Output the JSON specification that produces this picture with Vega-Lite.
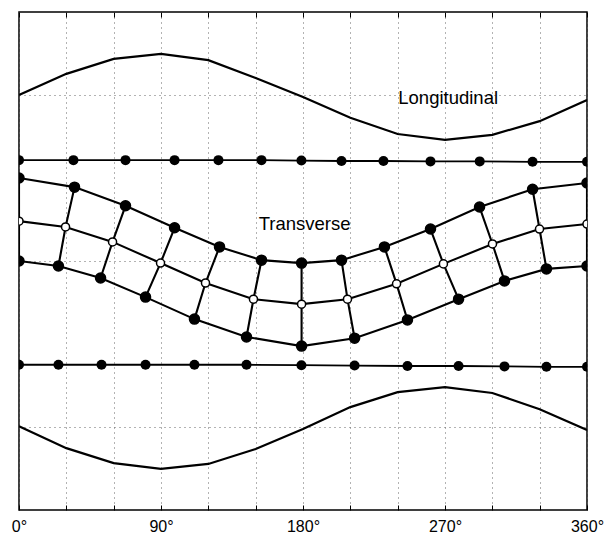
{
  "$schema": "https://vega.github.io/schema/vega-lite/v6.json",
  "width": 568,
  "height": 498,
  "autosize": {"type": "none"},
  "padding": {"left": 19, "top": 12, "right": 19, "bottom": 28},
  "background": "white",
  "config": {"view": {"stroke": "black", "strokeWidth": 1.5}},
  "datasets": {
    "lon": [
      {"curve": "upper", "x": 0, "y": 4.0}, {"curve": "upper", "x": 30, "y": 4.51}, {"curve": "upper", "x": 60, "y": 4.87},
      {"curve": "upper", "x": 90, "y": 4.99}, {"curve": "upper", "x": 120, "y": 4.84}, {"curve": "upper", "x": 150, "y": 4.41},
      {"curve": "upper", "x": 180, "y": 3.95}, {"curve": "upper", "x": 210, "y": 3.45}, {"curve": "upper", "x": 240, "y": 3.06},
      {"curve": "upper", "x": 270, "y": 2.92}, {"curve": "upper", "x": 300, "y": 3.04}, {"curve": "upper", "x": 330, "y": 3.37},
      {"curve": "upper", "x": 360, "y": 3.88},
      {"curve": "lower", "x": 0, "y": -3.98}, {"curve": "lower", "x": 30, "y": -4.51}, {"curve": "lower", "x": 60, "y": -4.87},
      {"curve": "lower", "x": 90, "y": -5.01}, {"curve": "lower", "x": 120, "y": -4.89}, {"curve": "lower", "x": 150, "y": -4.53},
      {"curve": "lower", "x": 180, "y": -4.05}, {"curve": "lower", "x": 210, "y": -3.52}, {"curve": "lower", "x": 240, "y": -3.16},
      {"curve": "lower", "x": 270, "y": -3.04}, {"curve": "lower", "x": 300, "y": -3.18}, {"curve": "lower", "x": 330, "y": -3.57},
      {"curve": "lower", "x": 360, "y": -4.07}
    ],
    "ldots": [
      {"line": "top", "i": 0, "x": 0, "y": 2.43}, {"line": "top", "i": 1, "x": 34.5, "y": 2.43}, {"line": "top", "i": 2, "x": 67.5, "y": 2.43},
      {"line": "top", "i": 3, "x": 98.6, "y": 2.43}, {"line": "top", "i": 4, "x": 126.4, "y": 2.43}, {"line": "top", "i": 5, "x": 153.7, "y": 2.43},
      {"line": "top", "i": 6, "x": 179, "y": 2.42}, {"line": "top", "i": 7, "x": 204.4, "y": 2.41}, {"line": "top", "i": 8, "x": 231.0, "y": 2.41},
      {"line": "top", "i": 9, "x": 260.8, "y": 2.4}, {"line": "top", "i": 10, "x": 292.0, "y": 2.4}, {"line": "top", "i": 11, "x": 325.5, "y": 2.39},
      {"line": "top", "i": 12, "x": 360, "y": 2.39},
      {"line": "bot", "i": 0, "x": 0, "y": -2.5}, {"line": "bot", "i": 1, "x": 25.0, "y": -2.5}, {"line": "bot", "i": 2, "x": 52.3, "y": -2.5},
      {"line": "bot", "i": 3, "x": 80.2, "y": -2.5}, {"line": "bot", "i": 4, "x": 111.2, "y": -2.5}, {"line": "bot", "i": 5, "x": 144.2, "y": -2.5},
      {"line": "bot", "i": 6, "x": 179, "y": -2.51}, {"line": "bot", "i": 7, "x": 212.7, "y": -2.52}, {"line": "bot", "i": 8, "x": 246.2, "y": -2.53},
      {"line": "bot", "i": 9, "x": 278.6, "y": -2.53}, {"line": "bot", "i": 10, "x": 307.7, "y": -2.54}, {"line": "bot", "i": 11, "x": 334.3, "y": -2.55},
      {"line": "bot", "i": 12, "x": 360, "y": -2.55}
    ],
    "trans": [
      {"row": 0, "col": 0, "x": 0, "y": 2.0}, {"row": 0, "col": 1, "x": 35.2, "y": 1.78}, {"row": 0, "col": 2, "x": 67.5, "y": 1.33},
      {"row": 0, "col": 3, "x": 98.6, "y": 0.8}, {"row": 0, "col": 4, "x": 127.1, "y": 0.34}, {"row": 0, "col": 5, "x": 153.7, "y": 0.02},
      {"row": 0, "col": 6, "x": 179.1, "y": -0.05}, {"row": 0, "col": 7, "x": 204.4, "y": 0.02}, {"row": 0, "col": 8, "x": 231.6, "y": 0.34},
      {"row": 0, "col": 9, "x": 260.8, "y": 0.77}, {"row": 0, "col": 10, "x": 291.9, "y": 1.3}, {"row": 0, "col": 11, "x": 325.5, "y": 1.73},
      {"row": 0, "col": 12, "x": 360, "y": 1.88},
      {"row": 1, "col": 0, "x": 0, "y": 0.96}, {"row": 1, "col": 1, "x": 29.5, "y": 0.82}, {"row": 1, "col": 2, "x": 59.3, "y": 0.46},
      {"row": 1, "col": 3, "x": 89.7, "y": -0.05}, {"row": 1, "col": 4, "x": 118.2, "y": -0.53}, {"row": 1, "col": 5, "x": 148.6, "y": -0.92},
      {"row": 1, "col": 6, "x": 179.1, "y": -1.04}, {"row": 1, "col": 7, "x": 208.2, "y": -0.92}, {"row": 1, "col": 8, "x": 239.3, "y": -0.55},
      {"row": 1, "col": 9, "x": 269.0, "y": -0.07}, {"row": 1, "col": 10, "x": 300.1, "y": 0.41}, {"row": 1, "col": 11, "x": 329.9, "y": 0.77},
      {"row": 1, "col": 12, "x": 360, "y": 0.89},
      {"row": 2, "col": 0, "x": 0, "y": 0.0}, {"row": 2, "col": 1, "x": 25.0, "y": -0.12}, {"row": 2, "col": 2, "x": 51.7, "y": -0.41},
      {"row": 2, "col": 3, "x": 80.2, "y": -0.87}, {"row": 2, "col": 4, "x": 111.2, "y": -1.4}, {"row": 2, "col": 5, "x": 144.2, "y": -1.83},
      {"row": 2, "col": 6, "x": 179.1, "y": -2.05}, {"row": 2, "col": 7, "x": 212.7, "y": -1.86}, {"row": 2, "col": 8, "x": 246.2, "y": -1.42},
      {"row": 2, "col": 9, "x": 278.6, "y": -0.92}, {"row": 2, "col": 10, "x": 307.7, "y": -0.48}, {"row": 2, "col": 11, "x": 334.3, "y": -0.19},
      {"row": 2, "col": 12, "x": 360, "y": -0.12}
    ],
    "labels": [
      {"text": "Longitudinal", "x": 272, "y": 3.78},
      {"text": "Transverse", "x": 181, "y": 0.75}
    ]
  },
  "resolve": {"axis": {"x": "independent"}},
  "layer": [
    {
      "data": {"name": "lon"},
      "mark": {"type": "line", "color": "black", "strokeWidth": 2.2, "clip": true},
      "encoding": {
        "x": {
          "field": "x", "type": "quantitative",
          "scale": {"domain": [0, 360], "nice": false, "zero": false},
          "axis": {
            "orient": "bottom", "title": null, "values": [0, 30, 60, 90, 120, 150, 180, 210, 240, 270, 300, 330, 360],
            "labelExpr": "datum.value % 90 === 0 ? datum.value + '°' : ''",
            "grid": true, "gridDash": [1, 4], "gridColor": "#666", "gridWidth": 1,
            "domain": false, "tickSize": -5, "tickColor": "black", "tickWidth": 1,
            "labelFont": "Liberation Sans", "labelFontSize": 16, "labelColor": "black",
            "labelPadding": 13, "labelFlush": false, "labelOverlap": false, "labelBound": false
          }
        },
        "y": {
          "field": "y", "type": "quantitative",
          "scale": {"domain": [-6, 6], "nice": false, "zero": false},
          "axis": {
            "values": [-4, 0, 4], "title": null, "labels": false, "ticks": false, "domain": false,
            "grid": true, "gridDash": [1, 4], "gridColor": "#666", "gridWidth": 1
          }
        },
        "detail": {"field": "curve"},
        "order": {"field": "x", "type": "quantitative"}
      }
    },
    {
      "data": {"name": "ldots"},
      "mark": {"type": "line", "color": "black", "strokeWidth": 1.8, "clip": true},
      "encoding": {
        "x": {
          "field": "x", "type": "quantitative",
          "axis": {
            "orient": "top", "title": null, "values": [0, 30, 60, 90, 120, 150, 180, 210, 240, 270, 300, 330, 360],
            "labels": false, "grid": false, "domain": false, "tickSize": -5, "tickColor": "black", "tickWidth": 1
          }
        },
        "y": {"field": "y", "type": "quantitative"},
        "detail": {"field": "line"},
        "order": {"field": "i", "type": "quantitative"}
      }
    },
    {
      "data": {"name": "ldots"},
      "mark": {"type": "point", "shape": "circle", "filled": true, "color": "black", "size": 100, "opacity": 1, "clip": true},
      "encoding": {
        "x": {"field": "x", "type": "quantitative", "axis": null},
        "y": {"field": "y", "type": "quantitative"}
      }
    },
    {
      "data": {"name": "trans"},
      "mark": {"type": "line", "color": "black", "strokeWidth": 2.1, "clip": true},
      "encoding": {
        "x": {"field": "x", "type": "quantitative", "axis": null},
        "y": {"field": "y", "type": "quantitative"},
        "detail": {"field": "row"},
        "order": {"field": "col", "type": "quantitative"}
      }
    },
    {
      "data": {"name": "trans"},
      "mark": {"type": "line", "color": "black", "strokeWidth": 2.1, "clip": true},
      "encoding": {
        "x": {"field": "x", "type": "quantitative", "axis": null},
        "y": {"field": "y", "type": "quantitative"},
        "detail": {"field": "col"},
        "order": {"field": "row", "type": "quantitative"}
      }
    },
    {
      "data": {"name": "trans"},
      "mark": {"type": "point", "shape": "circle", "filled": true, "stroke": "black", "strokeWidth": 1.5, "opacity": 1, "clip": true},
      "encoding": {
        "x": {"field": "x", "type": "quantitative", "axis": null},
        "y": {"field": "y", "type": "quantitative"},
        "fill": {"condition": {"test": "datum.row == 1", "value": "white"}, "value": "black"},
        "size": {"condition": {"test": "datum.row == 1", "value": 65}, "value": 100}
      }
    },
    {
      "data": {"name": "labels"},
      "mark": {"type": "text", "font": "Liberation Sans", "fontSize": 18.5, "color": "black", "align": "center", "baseline": "alphabetic"},
      "encoding": {
        "x": {"field": "x", "type": "quantitative", "axis": null},
        "y": {"field": "y", "type": "quantitative"},
        "text": {"field": "text"}
      }
    }
  ]
}
